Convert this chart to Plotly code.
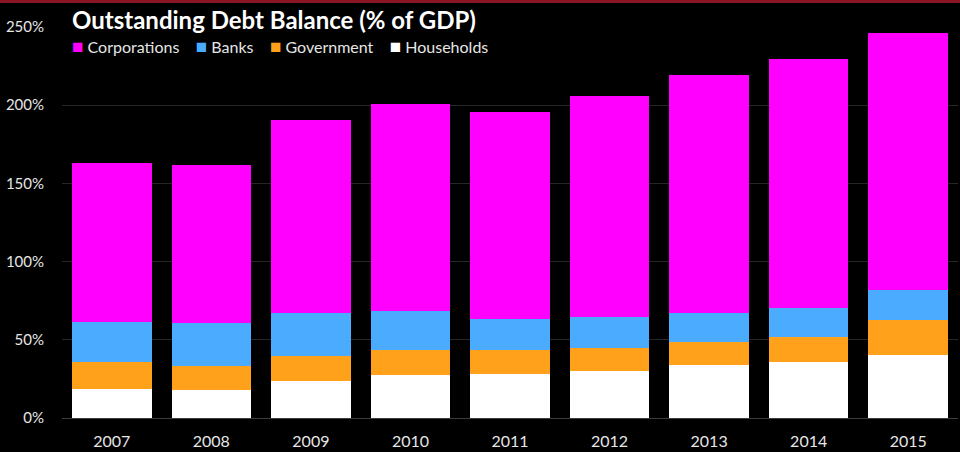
import plotly.graph_objects as go

years = ["2007", "2008", "2009", "2010", "2011", "2012", "2013", "2014", "2015"]
households = [18.7, 17.9, 23.4, 27.2, 28.3, 30.0, 33.8, 36.0, 40.4]
government = [17.3, 15.5, 16.4, 16.4, 15.1, 14.9, 14.9, 15.9, 22.4]
banks = [25.5, 27.5, 27.4, 24.5, 19.8, 20.0, 18.7, 18.3, 18.9]
corporations = [101.7, 101.0, 123.1, 132.8, 132.6, 140.9, 151.8, 159.4, 164.5]

series = [
    ("Households", households, "#ffffff"),
    ("Government", government, "#ffa11a"),
    ("Banks", banks, "#4aabff"),
    ("Corporations", corporations, "#ff00ff"),
]

FONT = "Lato, 'Open Sans', sans-serif"

fig = go.Figure()
for name, vals, color in series:
    fig.add_trace(go.Bar(
        x=years, y=vals, name=name,
        marker=dict(color=color, line=dict(width=0)),
        showlegend=False,
    ))

# legend drawn as text (order as in the reference)
legend_order = ["Corporations", "Banks", "Government", "Households"]
colors = {n: c for n, _, c in series}
legend_html = "&nbsp;&nbsp;&nbsp;&nbsp;".join(
    f"<span style='color:{colors[n]};font-size:19px'>■</span> {n}" for n in legend_order
)

PH = 391  # plot height in px

fig.update_layout(
    width=960, height=452,
    paper_bgcolor="#000000", plot_bgcolor="#000000",
    margin=dict(l=62, r=2, t=27, b=34),
    barmode="stack", bargap=0.2,
    font=dict(family=FONT, color="#e6e6e6", size=15),
    xaxis=dict(
        type="category", showgrid=False, zeroline=False, showline=False,
        tickfont=dict(size=16, color="#e6e6e6"),
        ticks="", ticklabelstandoff=12, automargin=False,
    ),
    yaxis=dict(
        range=[0, 250], dtick=50, ticksuffix="%",
        showgrid=True, gridcolor="#262626", gridwidth=1,
        zeroline=True, zerolinecolor="#3c3c3c", zerolinewidth=1,
        showline=False, tickfont=dict(size=15, color="#e6e6e6"),
        ticks="", ticklabelstandoff=17, automargin=False,
    ),
    shapes=[dict(
        type="rect", xref="paper", yref="paper",
        x0=-0.07, x1=1.01, y0=1 + 24 / PH, y1=1 + 27 / PH,
        fillcolor="#8a1525", line=dict(width=0), layer="above",
    )],
    annotations=[
        dict(text="<b>Outstanding Debt Balance (% of GDP)</b>",
             xref="paper", yref="paper", x=8 / 896, y=1 + 8 / PH,
             xanchor="left", yanchor="middle", showarrow=False,
             font=dict(size=24, color="#ffffff", family=FONT)),
        dict(text=legend_html,
             xref="paper", yref="paper", x=8 / 896, y=1 - 19 / PH,
             xanchor="left", yanchor="middle", showarrow=False,
             font=dict(size=16, color="#e6e6e6", family=FONT)),
    ],
)

fig.write_html(
    "out.html",
    config={"displayModeBar": False},
    post_script="document.body.style.margin='0';document.body.style.background='#000';",
)
